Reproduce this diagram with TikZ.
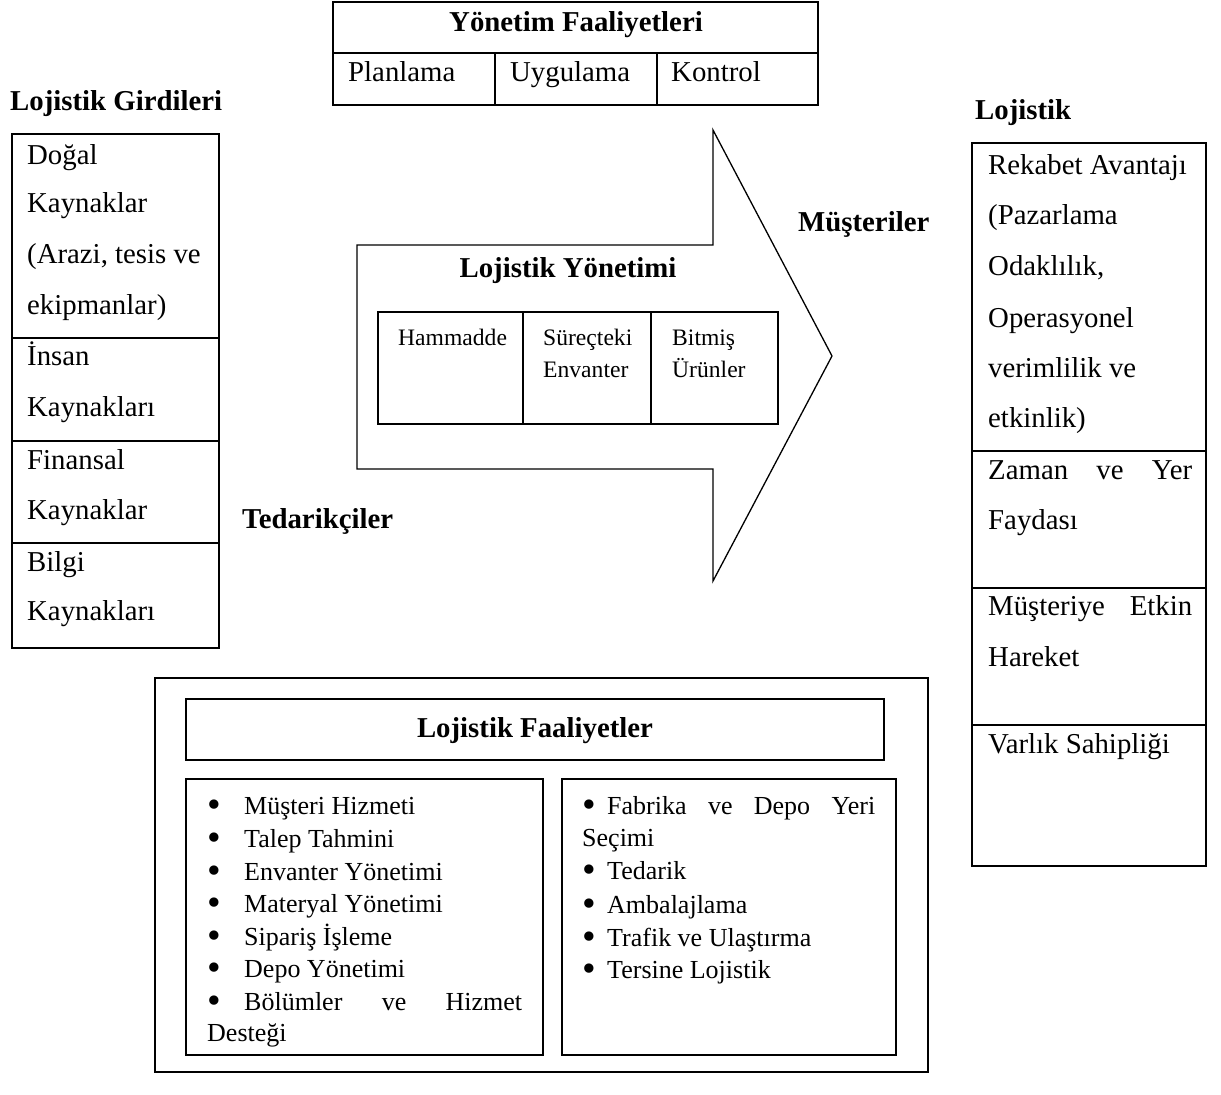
\documentclass[tikz,border=0pt]{standalone}
\usepackage{fontspec}
\setmainfont{Liberation Serif}
\newcommand{\bigbul}{\smash{\raisebox{-0.12em}{\scalebox{1.5}{\textbullet}}}}
\begin{document}
\begin{tikzpicture}[x=1pt,y=-1pt,
  line/.style={line width=1.6pt},
  big/.style={font=\fontsize{28.8}{34}\selectfont, inner sep=0pt},
  bigb/.style={font=\fontsize{28.8}{34}\selectfont\bfseries, inner sep=0pt},
  mid/.style={font=\fontsize{23.6}{28}\selectfont, inner sep=0pt},
  lst/.style={font=\fontsize{26}{30}\selectfont, inner sep=0pt},
  tl/.style={anchor=base west},
  tc/.style={anchor=base}]
\useasboundingbox (0,0) rectangle (1221,1095);
\fill[white] (0,0) rectangle (1221,1095);

% Top table
\draw[line] (333,2) rectangle (818,105);
\draw[line] (333,53) -- (818,53);
\draw[line] (495,53) -- (495,105);
\draw[line] (657,53) -- (657,105);
\node[bigb,tc] (yf) at (576,31) {Yönetim Faaliyetleri};
\node[big,tl] (pl) at (348,81) {Planlama};
\node[big,tl] (uy) at (510,81) {Uygulama};
\node[big,tl] (ko) at (671,81) {Kontrol};

% Left inputs
\node[bigb,tl] (lg) at (10,110) {Lojistik Girdileri};
\draw[line] (12,134) rectangle (219,648);
\draw[line] (12,338) -- (219,338);
\draw[line] (12,441) -- (219,441);
\draw[line] (12,543) -- (219,543);
\node[big,tl] (l1) at (27,164) {Doğal};
\node[big,tl] (l2) at (27,212) {Kaynaklar};
\node[big,tl] (l3) at (27,263) {(Arazi, tesis ve};
\node[big,tl] (l4) at (27,314) {ekipmanlar)};
\node[big,tl] (l5) at (27,365) {İnsan};
\node[big,tl] (l6) at (27,416) {Kaynakları};
\node[big,tl] (l7) at (27,469) {Finansal};
\node[big,tl] (l8) at (27,519) {Kaynaklar};
\node[big,tl] (l9) at (27,571) {Bilgi};
\node[big,tl] (l10) at (27,620) {Kaynakları};

\node[bigb,tl] (ted) at (242,528) {Tedarikçiler};
\node[bigb,tl] (mus) at (798,231) {Müşteriler};

% Arrow
\draw[line, line width=1.3pt, line join=miter]
  (357,245) -- (713,245) -- (713,130) -- (832,356) -- (713,581) -- (713,469) -- (357,469) -- cycle;
\node[bigb,tc] (ly) at (568,277) {Lojistik Yönetimi};
\draw[line] (378,312) rectangle (778,424);
\draw[line] (523,312) -- (523,424);
\draw[line] (651,312) -- (651,424);
\node[mid,tl] (hm) at (398,345) {Hammadde};
\node[mid,tl] (se) at (543,345) {Süreçteki};
\node[mid,tl] (en) at (543,377) {Envanter};
\node[mid,tl] (bi) at (672,345) {Bitmiş};
\node[mid,tl] (ur) at (672,377) {Ürünler};

% Right outputs
\node[bigb,tl] (lr) at (975,119) {Lojistik};
\draw[line] (972,143) rectangle (1206,866);
\draw[line] (972,451) -- (1206,451);
\draw[line] (972,588) -- (1206,588);
\draw[line] (972,725) -- (1206,725);
\node[big,tl] (r1) at (988,174) {Rekabet Avantajı};
\node[big,tl] (r2) at (988,224) {(Pazarlama};
\node[big,tl] (r3) at (988,275) {Odaklılık,};
\node[big,tl] (r4) at (988,327) {Operasyonel};
\node[big,tl] (r5) at (988,377) {verimlilik ve};
\node[big,tl] (r6) at (988,427) {etkinlik)};
\node[big,tl] (r7) at (988,479) {\makebox[204pt][s]{Zaman\hfill ve\hfill Yer}};
\node[big,tl] (r8) at (988,529) {Faydası};
\node[big,tl] (r9) at (988,615) {\makebox[204pt][s]{Müşteriye\hfill Etkin}};
\node[big,tl] (r10) at (988,666) {Hareket};
\node[big,tl] (r11) at (988,753) {Varlık Sahipliği};

% Bottom activities
\draw[line] (155,678) rectangle (928,1072);
\draw[line] (186,699) rectangle (884,760);
\node[bigb,tc] (lf) at (535,737) {Lojistik Faaliyetler};
\draw[line] (186,779) rectangle (543,1055);
\draw[line] (562,779) rectangle (896,1055);
\node[lst,tl] (a1) at (207,814) {\makebox[37pt][l]{\bigbul}Müşteri Hizmeti};
\node[lst,tl] (a2) at (207,847) {\makebox[37pt][l]{\bigbul}Talep Tahmini};
\node[lst,tl] (a3) at (207,880) {\makebox[37pt][l]{\bigbul}Envanter Yönetimi};
\node[lst,tl] (a4) at (207,912) {\makebox[37pt][l]{\bigbul}Materyal Yönetimi};
\node[lst,tl] (a5) at (207,945) {\makebox[37pt][l]{\bigbul}Sipariş İşleme};
\node[lst,tl] (a6) at (207,977) {\makebox[37pt][l]{\bigbul}Depo Yönetimi};
\node[lst,tl] (a7) at (207,1010) {\makebox[315pt][s]{\makebox[37pt][l]{\bigbul}Bölümler\hfill ve\hfill Hizmet}};
\node[lst,tl] (a8) at (207,1041) {Desteği};
\node[lst,tl] (b1) at (582,814) {\makebox[293pt][s]{\makebox[25pt][l]{\bigbul}Fabrika\hfill ve\hfill Depo\hfill Yeri}};
\node[lst,tl] (b2) at (582,846) {Seçimi};
\node[lst,tl] (b3) at (582,879) {\makebox[25pt][l]{\bigbul}Tedarik};
\node[lst,tl] (b4) at (582,913) {\makebox[25pt][l]{\bigbul}Ambalajlama};
\node[lst,tl] (b5) at (582,946) {\makebox[25pt][l]{\bigbul}Trafik ve Ulaştırma};
\node[lst,tl] (b6) at (582,978) {\makebox[25pt][l]{\bigbul}Tersine Lojistik};
\end{tikzpicture}
\end{document}
